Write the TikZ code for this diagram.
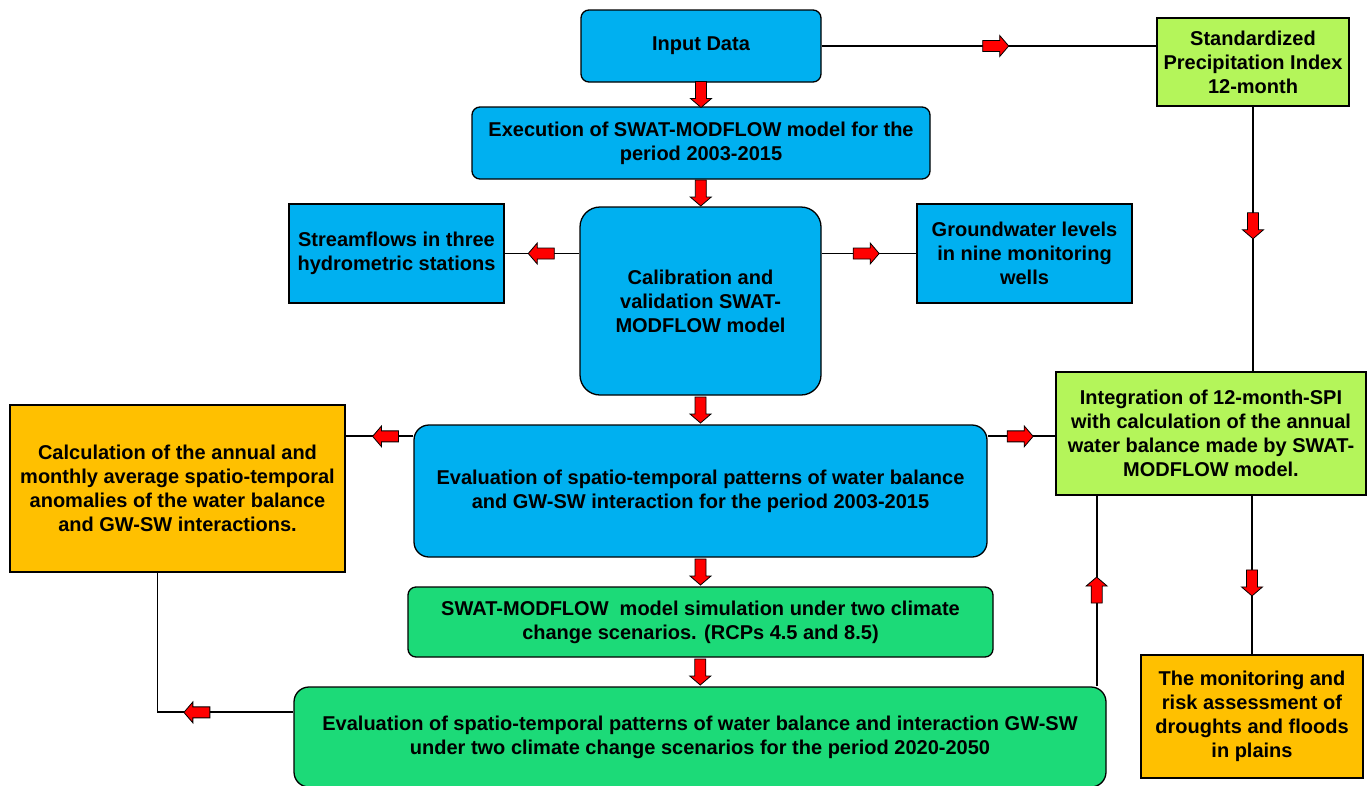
\documentclass[tikz,border=0pt]{standalone}
\usepackage{fontspec}
\setmainfont{Liberation Sans}
\usetikzlibrary{calc}
\definecolor{cblue}{RGB}{0,176,240}
\definecolor{cgreen}{RGB}{28,218,120}
\definecolor{clime}{RGB}{180,245,90}
\definecolor{corange}{RGB}{255,192,0}
\definecolor{cred}{RGB}{255,0,0}
\begin{document}
\begin{tikzpicture}[x=1pt,y=-1pt,
  box/.style={draw=black, line width=1.3pt, align=center, inner sep=0pt,
    font=\fontsize{20}{24}\selectfont\bfseries},
  bluebox/.style={box, fill=cblue},
  greenbox/.style={box, fill=cgreen},
  limebox/.style={box, fill=clime},
  orangebox/.style={box, fill=corange},
  conn/.style={draw=black, line width=1.8pt},
  barrow/.pic={\draw[fill=cred, line width=0.8pt, line join=miter]
    (-13,-5.5) -- (4,-5.5) -- (4,-10.5) -- (13,0) -- (4,10.5) -- (4,5.5) -- (-13,5.5) -- cycle;}
]
\useasboundingbox[fill=white] (0,0) rectangle (1368,785);

% nodes
\node[bluebox, rounded corners=8pt, minimum width=240pt, minimum height=72pt] (in) at (701,46) {Input Data};
\node[bluebox, rounded corners=8pt, minimum width=458pt, minimum height=72pt] (exe) at (701,143)
  {Execution of SWAT-MODFLOW model for the\\period 2003-2015};
\node[bluebox, rounded corners=20pt, minimum width=241pt, minimum height=188pt] (cal) at (700.5,301)
  {Calibration and\\validation SWAT-\\MODFLOW model};
\node[bluebox, minimum width=215pt, minimum height=99pt] (sf) at (396.5,253.5)
  {Streamflows in three\\hydrometric stations};
\node[bluebox, minimum width=215pt, minimum height=99pt] (gw) at (1024.5,253.5)
  {Groundwater levels\\in nine monitoring\\wells};
\node[bluebox, rounded corners=15pt, minimum width=573pt, minimum height=132pt] (ev) at (700.5,491)
  {Evaluation of spatio-temporal patterns of water balance\\and GW-SW interaction for the period 2003-2015};
\node[orangebox, minimum width=335pt, minimum height=167pt] (calc) at (177.5,488.5)
  {Calculation of the annual and\\monthly average spatio-temporal\\anomalies of the water balance\\and GW-SW interactions.};
\node[greenbox, rounded corners=8pt, minimum width=585pt, minimum height=70pt] (sim) at (700.5,622)
  {SWAT-MODFLOW\ \ model simulation under two climate\\change scenarios. (RCPs 4.5 and 8.5)};
\node[greenbox, rounded corners=15pt, minimum width=812pt, minimum height=100pt] (ev2) at (700,737)
  {Evaluation of spatio-temporal patterns of water balance and interaction GW-SW\\under two climate change scenarios for the period 2020-2050};
\node[limebox, minimum width=192pt, minimum height=88pt] (spi) at (1253,62)
  {Standardized\\Precipitation Index\\12-month};
\node[limebox, minimum width=310pt, minimum height=123pt] (int) at (1211,433.5)
  {Integration of 12-month-SPI\\with calculation of the annual\\water balance made by SWAT-\\MODFLOW model.};
\node[orangebox, minimum width=222pt, minimum height=123pt] (mon) at (1252,716.5)
  {The monitoring and\\risk assessment of\\droughts and floods\\in plains};

% helper coordinates
\coordinate (spiin) at (in.east -| spi.west);
\coordinate (calw) at (cal.west |- sf.east);
\coordinate (cale) at (cal.east |- gw.west);
\coordinate (evl) at ($(ev.north west)+(0,12)$);
\coordinate (evr) at ($(ev.north east)+(0,12)$);
\coordinate (calcin) at (evl -| calc.east);
\coordinate (intin) at (evr -| int.west);
\coordinate (ev2up) at ($(ev2.north east)+(-10,0)$);
\coordinate (intdn) at (ev2up |- int.south);
\coordinate (calcdn) at ($(calc.south)+(-20,0)$);
\coordinate (ev2l) at ($(ev2.north west)+(0,26)$);
\coordinate (bend) at (calcdn |- ev2l);
\coordinate (spidn) at (spi.south |- int.north);
\coordinate (intmon) at (int.south -| mon.north);

% connectors
\draw[conn] (in.east) -- (spiin);
\draw[conn] (calw) -- (sf.east);
\draw[conn] (cale) -- (gw.west);
\draw[conn] (evl) -- (calcin);
\draw[conn] (evr) -- (intin);
\draw[conn] (ev2up) -- (intdn);
\draw[conn] (calcdn) -- (bend) -- (ev2l);
\draw[conn] (spi.south) -- (spidn);
\draw[conn] (intmon) -- (mon.north);

% block arrows
\pic[rotate=-90] at ($(in.south)!.5!(exe.north)$) {barrow};
\pic[rotate=-90] at ($(exe.south)!.5!(cal.north)$) {barrow};
\pic[rotate=-90] at ($(cal.south)!.5!(ev.north)$) {barrow};
\pic[rotate=-90] at ($(ev.south)!.5!(sim.north)$) {barrow};
\pic[rotate=-90] at ($(sim.south)!.5!(ev2.north)$) {barrow};
\pic at ($(in.east)!.52!(spiin)$) {barrow};
\pic[rotate=180] at ($(calw)!.51!(sf.east)$) {barrow};
\pic at ($(cale)!.47!(gw.west)$) {barrow};
\pic[rotate=180] at ($(evl)!.41!(calcin)$) {barrow};
\pic at ($(evr)!.48!(intin)$) {barrow};
\pic[rotate=90] at ($(ev2up)!.505!(intdn)$) {barrow};
\pic[rotate=180] at ($(ev2l)!.71!(bend)$) {barrow};
\pic[rotate=-90] at ($(spi.south)!.45!(spidn)$) {barrow};
\pic[rotate=-90] at ($(intmon)!.55!(mon.north)$) {barrow};
\end{tikzpicture}
\end{document}
